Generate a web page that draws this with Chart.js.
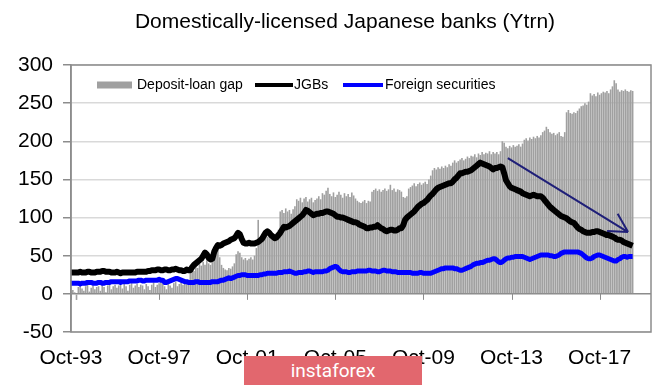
<!DOCTYPE html>
<html>
<head>
<meta charset="utf-8">
<script src="https://cdn.jsdelivr.net/npm/chart.js@4.4.1/dist/chart.umd.min.js"></script>
<style>
  body { margin: 0; background: #fff; }
  #wrap { position: relative; width: 665px; height: 387px; }
  #badge {
    position: absolute; left: 244px; top: 356px; width: 178px; height: 29px;
    background: #e2676e; color: #fff; font: 19px Roboto, sans-serif;
    line-height: 29px; text-align: center;
  }
</style>
</head>
<body>
<div id="wrap">
  <canvas id="chart" width="665" height="387"></canvas>
  <div id="badge">instaforex</div>
</div>
<script>
const title = 'Domestically-licensed Japanese banks (Ytrn)';
const seriesNames = ['Deposit-loan gap', 'JGBs', 'Foreign securities'];

// monthly, Oct-93 .. Apr-19 (one row per calendar year)
const depositLoanGap = [
    3, 5, 2,
    -8, 9, 11, 7, 4, 10, 12, 3, 8, 11, 6, 9,
    10, 4, 12, 9, 2, 11, 13, 6, 10, 12, 8, 11,
    12, 7, 13, 10, 4, 12, 14, 8, 11, 13, 9, 12,
    11, 6, 13, 10, 5, 12, 15, 9, 12, 14, 18, 13,
    10, 6, 13, 11, 8, 14, 16, 10, 13, 17, 12, 15,
    18, 14, 33, 36, 30, 38, 34, 40, 37, 42, 38, 44,
    40, 38, 44, 52, 56, 58, 48, 38, 34, 32, 31, 34,
    33, 36, 40, 52, 56, 54, 48, 45, 47, 44, 46, 48,
    45, 50, 60, 97, 70, 74, 78, 80, 75, 79, 82, 77,
    78, 80, 84, 108, 110, 106, 112, 108, 110, 105, 111, 115,
    124, 122, 126, 120, 125, 127, 121, 124, 126, 120, 123, 125,
    128, 124, 132, 130, 135, 139, 131, 128, 133, 127, 130, 134,
    130, 126, 132, 128, 131, 127, 133, 129, 125, 122, 120, 119,
    121, 123, 119, 122, 121, 134, 136, 138, 135, 137, 134, 136,
    138, 135, 137, 143, 136, 138, 134, 137, 136, 134, 127, 126,
    128, 138, 140, 142, 145, 141, 144, 146, 143, 145, 147, 144,
    150, 155, 162, 165, 163, 166, 164, 167, 165, 168, 166, 170,
    168, 172, 175, 172, 174, 176, 178, 175, 177, 180, 178, 181,
    180, 183, 179, 184, 182, 186, 183, 185, 184, 187, 183, 186,
    184, 186, 183, 187, 200, 198, 193, 191, 194, 192, 195, 193,
    194, 196, 193, 197, 202, 204, 201, 205, 203, 206, 204, 207,
    205, 208, 212, 214, 219, 216, 212, 210, 211, 208, 210, 212,
    207, 206, 212, 238, 241, 237, 236, 238, 237, 240, 243, 246,
    247, 250, 248, 252, 263, 260, 262, 259, 264, 261, 263, 265,
    264, 266, 263, 268, 272, 280, 276, 268, 265, 267, 266, 268,
    266, 265, 267, 266
];

const jgbs = [
    28, 28, 28,
    28, 28, 29, 28, 28, 28, 29, 29, 28, 28, 28, 29,
    29, 29, 30, 30, 29, 29, 29, 28, 28, 28, 29, 28,
    27, 28, 28, 28, 28, 28, 28, 28, 28, 29, 29, 29,
    29, 29, 29, 30, 30, 31, 31, 31, 32, 32, 31, 31,
    32, 32, 31, 31, 32, 32, 33, 32, 31, 31, 30, 30,
    32, 31, 31, 35, 38, 40, 42, 44, 46, 50, 54, 52,
    47, 45, 46, 55, 60, 64, 63, 64, 66, 67, 68, 69,
    71, 72, 73, 76, 80, 78, 72, 67, 66, 66, 67, 66,
    66, 66, 67, 68, 70, 72, 76, 80, 82, 80, 77, 75,
    73, 74, 77, 80, 84, 88, 87, 88, 89, 91, 93, 95,
    97, 99, 101, 103, 106, 110, 109, 107, 105, 103, 104, 105,
    105, 106, 106, 107, 108, 108, 107, 106, 105, 103, 101, 101,
    100, 100, 99, 98, 97, 96, 95, 94, 94, 93, 91, 90,
    89, 88, 86, 86, 87, 87, 88, 88, 90, 88, 86, 85,
    83, 82, 83, 84, 84, 83, 83, 84, 86, 86, 90, 97,
    100, 102, 104, 106, 108, 111, 114, 116, 118, 119, 121, 123,
    126, 129, 131, 134, 137, 139, 140, 141, 142, 143, 144, 145,
    145, 147, 150, 152, 155, 158, 158, 159, 160, 160, 161, 162,
    164, 166, 168, 170, 172, 171, 170, 169, 168, 167, 165, 163,
    165, 165, 166, 167, 166, 158, 149, 145, 141, 139, 138, 137,
    136, 135, 134, 132, 131, 130, 129, 128, 129, 130, 129, 128,
    128, 128, 126, 123, 120, 117, 114, 112, 110, 108, 106, 104,
    102, 101, 100, 99, 97, 95, 94, 93, 90, 87, 85, 84,
    82, 81, 80, 80, 80, 81, 81, 82, 82, 81, 80, 79,
    78, 77, 77, 76, 75, 74, 72, 71, 71, 70, 68, 67,
    66, 65, 64, 63
];

const foreignSecurities = [
    14, 14, 14,
    14, 14, 13, 14, 14, 14, 15, 15, 15, 14, 14, 14,
    15, 15, 14, 14, 15, 15, 15, 16, 16, 16, 16, 16,
    15, 16, 16, 16, 16, 17, 17, 17, 17, 17, 18, 18,
    17, 17, 18, 18, 18, 18, 18, 18, 18, 19, 18, 18,
    15, 15, 16, 17, 18, 19, 20, 20, 19, 18, 17, 16,
    16, 15, 15, 15, 15, 16, 16, 15, 15, 15, 15, 15,
    15, 15, 16, 16, 16, 16, 17, 18, 18, 19, 20, 21,
    20, 21, 22, 23, 24, 24, 25, 25, 25, 24, 24, 24,
    24, 24, 24, 24, 25, 25, 26, 26, 27, 27, 27, 27,
    27, 27, 28, 28, 28, 29, 29, 29, 30, 29, 28, 27,
    27, 28, 28, 28, 29, 29, 30, 30, 29, 28, 29, 29,
    29, 29, 29, 30, 30, 31, 33, 34, 35, 36, 35, 32,
    30, 29, 29, 29, 28, 28, 29, 29, 29, 30, 30, 30,
    30, 30, 30, 31, 31, 30, 30, 30, 29, 29, 30, 31,
    31, 30, 30, 30, 29, 29, 29, 28, 28, 28, 28, 28,
    28, 28, 28, 27, 27, 27, 27, 28, 28, 27, 27, 27,
    27, 27, 28, 29, 30, 31, 32, 33, 33, 34, 34, 34,
    34, 34, 33, 33, 32, 31, 31, 32, 33, 34, 35, 36,
    38, 39, 40, 40, 41, 41, 42, 43, 44, 44, 45, 46,
    46, 44, 42, 41, 42, 44, 46, 47, 47, 48, 48, 49,
    49, 49, 49, 49, 48, 47, 46, 45, 46, 47, 48, 49,
    50, 51, 51, 51, 51, 51, 50, 50, 49, 49, 50, 51,
    53, 54, 55, 55, 55, 55, 55, 55, 55, 55, 54, 53,
    51, 49, 47, 46, 46, 47, 49, 50, 51, 51, 50, 49,
    48, 47, 46, 45, 44, 43, 43, 45, 46, 48, 49, 49,
    48, 49, 49, 49
];

// category axis runs Oct-93 .. Feb-20, label every 4 years
const monthNames = ['Jan', 'Feb', 'Mar', 'Apr', 'May', 'Jun', 'Jul', 'Aug', 'Sep', 'Oct', 'Nov', 'Dec'];
const axisMonths = 317;
const labelEvery = 48;
const months = [];
for (let i = 0; i < axisMonths; i++) {
    const m = 9 + i;
    const yy = (1993 + Math.floor(m / 12)) % 100;
    months.push(monthNames[m % 12] + '-' + String(yy).padStart(2, '0'));
}

// trend arrow: [month index, value] start and end
const arrowFrom = [238, 178];
const arrowTo = [303.5, 81];

const FONT = '"Liberation Sans", Arial, sans-serif';

const decor = {
    id: 'decor',
    afterDraw(chart) {
        const ctx = chart.ctx;
        const area = chart.chartArea;
        const xs = chart.scales.x;
        const ys = chart.scales.y;
        ctx.save();

        // frame
        ctx.strokeStyle = '#8c8c8c';
        ctx.lineWidth = 1.5;
        ctx.strokeRect(area.left, area.top, area.right - area.left, area.bottom - area.top);

        // tick marks on the zero line
        const y0 = ys.getPixelForValue(0);
        ctx.lineWidth = 1;
        ctx.beginPath();
        for (let i = 0; i < axisMonths; i += labelEvery) {
            const x = Math.round(xs.getPixelForValue(i)) + 0.5;
            ctx.moveTo(x, y0);
            ctx.lineTo(x, y0 + 6);
        }
        ctx.stroke();

        // arrow
        const ax = xs.getPixelForValue(arrowFrom[0]), ay = ys.getPixelForValue(arrowFrom[1]);
        const bx = xs.getPixelForValue(arrowTo[0]), by = ys.getPixelForValue(arrowTo[1]);
        const ang = Math.atan2(by - ay, bx - ax);
        ctx.strokeStyle = '#1f1f78';
        ctx.lineWidth = 2;
        ctx.beginPath();
        ctx.moveTo(ax, ay);
        ctx.lineTo(bx, by);
        for (const d of [0.5, -0.5]) {
            ctx.moveTo(bx, by);
            ctx.lineTo(bx - 21 * Math.cos(ang + d), by - 21 * Math.sin(ang + d));
        }
        ctx.stroke();

        // title
        ctx.fillStyle = '#000';
        ctx.font = '21px ' + FONT;
        ctx.textAlign = 'center';
        ctx.textBaseline = 'middle';
        ctx.fillText(title, 345, 22);

        // legend inside plot
        ctx.font = '14px ' + FONT;
        ctx.textAlign = 'left';
        const ly = 85;
        ctx.fillStyle = '#a0a0a0';
        ctx.fillRect(97, ly - 3.5, 35, 7);
        ctx.fillStyle = '#000';
        ctx.fillText(seriesNames[0], 137, ly);
        ctx.lineWidth = 4;
        ctx.strokeStyle = '#000';
        ctx.beginPath(); ctx.moveTo(255, ly); ctx.lineTo(293, ly); ctx.stroke();
        ctx.fillText(seriesNames[1], 294, ly);
        ctx.strokeStyle = '#0000ff';
        ctx.beginPath(); ctx.moveTo(343, ly); ctx.lineTo(383, ly); ctx.stroke();
        ctx.fillText(seriesNames[2], 385, ly);

        ctx.restore();
    }
};

new Chart(document.getElementById('chart'), {
    type: 'bar',
    data: {
        labels: months,
        datasets: [
            {
                label: seriesNames[0],
                data: depositLoanGap,
                backgroundColor: '#a0a0a0',
                barPercentage: 0.88,
                categoryPercentage: 1,
                order: 3
            },
            {
                type: 'line',
                label: seriesNames[1],
                data: jgbs,
                borderColor: '#000',
                borderWidth: 6,
                pointRadius: 0,
                borderJoinStyle: 'round',
                tension: 0,
                order: 1
            },
            {
                type: 'line',
                label: seriesNames[2],
                data: foreignSecurities,
                borderColor: '#0000ff',
                borderWidth: 5,
                pointRadius: 0,
                borderJoinStyle: 'round',
                tension: 0,
                order: 2
            }
        ]
    },
    options: {
        responsive: false,
        animation: false,
        devicePixelRatio: 1,
        layout: { padding: { top: 65, right: 14, left: 0, bottom: 0 } },
        plugins: {
            legend: { display: false },
            title: { display: false },
            tooltip: { enabled: false }
        },
        scales: {
            x: {
                type: 'category',
                offset: false,
                grid: { display: false, drawTicks: false },
                border: { display: false },
                ticks: {
                    autoSkip: false,
                    maxRotation: 0,
                    padding: 14,
                    color: '#000',
                    font: { family: FONT, size: 21 },
                    callback: function (val, idx) {
                        return idx % labelEvery === 0 ? this.getLabelForValue(val) : null;
                    }
                },
                afterFit: s => { s.height = 55; }
            },
            y: {
                min: -50,
                max: 300,
                ticks: {
                    stepSize: 50,
                    padding: 10,
                    color: '#000',
                    font: { family: FONT, size: 21 }
                },
                grid: {
                    color: c => c.tick && c.tick.value === 0 ? '#8c8c8c' : '#d9d9d9',
                    lineWidth: 1.5,
                    tickLength: 8,
                    tickColor: '#8c8c8c'
                },
                border: { display: true, color: '#8c8c8c', width: 1.5 },
                afterFit: s => { s.width = 71; }
            }
        }
    },
    plugins: [decor]
});
</script>
</body>
</html>
